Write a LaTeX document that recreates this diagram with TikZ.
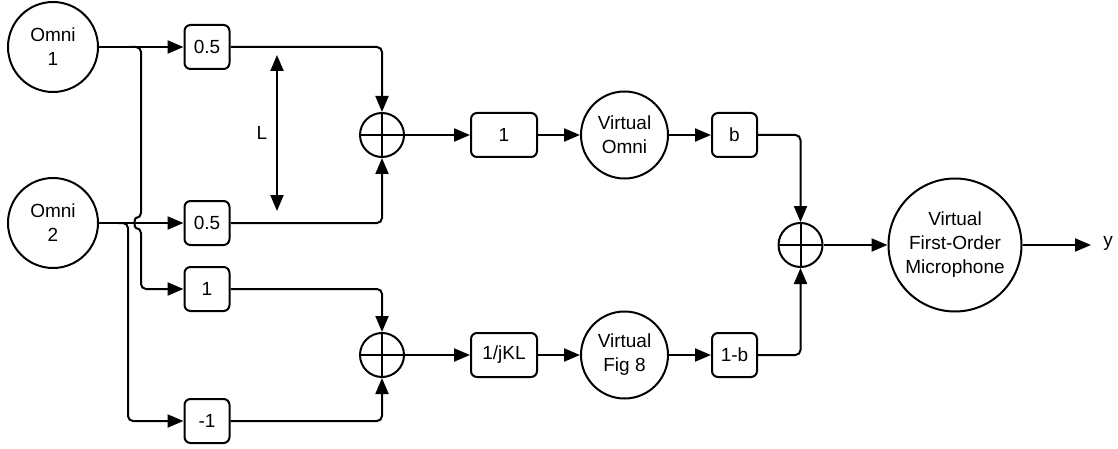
\documentclass[tikz,border=0pt]{standalone}
\usepackage{fontspec}
\setmainfont{Liberation Sans}
\usetikzlibrary{arrows.meta}
\begin{document}
\begin{tikzpicture}[x=1pt,y=-1pt,line width=2pt,
  every node/.style={font=\fontsize{19}{24}\selectfont},
  gainbox/.style={draw,rounded corners=6pt,minimum width=45pt,minimum height=44pt,inner sep=0pt},
  widebox/.style={gainbox,minimum width=66pt},
  micro/.style={draw,circle,align=center,inner sep=0pt},
  summer/.style={draw,circle,minimum size=44pt,inner sep=0pt,
    path picture={\draw[line width=2pt] (path picture bounding box.west) -- (path picture bounding box.east)
      (path picture bounding box.north) -- (path picture bounding box.south);}},
  sig/.style={-{Triangle[length=16pt,width=13pt]}},
  wire/.style={rounded corners=5pt}]
\useasboundingbox (0,0) rectangle (1118,449);
\node[micro,minimum size=90pt] (omnione) at (53,47) {Omni\\1};
\node[micro,minimum size=90pt] (omnitwo) at (53,223) {Omni\\2};
\node[gainbox] (ga) at (207,47) {0.5};
\node[gainbox] (gb) at (207,223) {0.5};
\node[gainbox] (gc) at (207,289) {1};
\node[gainbox] (gd) at (207,421) {-1};
\node[summer] (suma) at (382,135) {};
\node[summer] (sumb) at (382,355) {};
\coordinate (ltop) at (277,55);
\coordinate (lbot) at (277,211);
\node (lab) at (262,133) {L};
\node[widebox] (ha) at (504,135) {1};
\node[widebox] (hb) at (504,355) {1/jKL};
\node[micro,minimum size=87pt] (vo) at (624.5,135) {Virtual\\Omni};
\node[micro,minimum size=87pt] (vf) at (624.5,355) {Virtual\\Fig 8};
\node[gainbox] (ba) at (734.5,135) {b};
\node[gainbox] (bb) at (734.5,355) {1-b};
\node[summer] (sumc) at (800.5,245) {};
\node[micro,minimum size=133pt] (big) at (955,245) {Virtual\\First-Order\\Microphone};
\coordinate (yend) at (1091,245);
\node (ylab) at (1108,243) {y};
% inputs
\draw[sig] (omnione.east) -- (ga.west);
\draw[sig] (omnitwo.east) -- (gb.west);
\coordinate (jtop) at (130,47);
\draw[sig,wire] (jtop) -- (141,47) -- (141,218) .. controls (134,218) and (134,228) .. (141,228) -- (141,289) -- (gc.west);
\coordinate (ktop) at (118,223);
\draw[sig,wire] (ktop) -- (128,223) -- (128,421) -- (gd.west);
% L arrow
\draw[{Triangle[length=16pt,width=13pt]}-{Triangle[length=16pt,width=13pt]}] (ltop) -- (lbot);
% to summers
\draw[sig,wire] (ga.east) -- (suma.north |- ga.east) -- (suma.north);
\draw[sig,wire] (gb.east) -- (suma.south |- gb.east) -- (suma.south);
\draw[sig,wire] (gc.east) -- (sumb.north |- gc.east) -- (sumb.north);
\draw[sig,wire] (gd.east) -- (sumb.south |- gd.east) -- (sumb.south);
% chains
\draw[sig] (suma.east) -- (ha.west);
\draw[sig] (ha.east) -- (vo.west);
\draw[sig] (vo.east) -- (ba.west);
\draw[sig] (sumb.east) -- (hb.west);
\draw[sig] (hb.east) -- (vf.west);
\draw[sig] (vf.east) -- (bb.west);
\draw[sig,wire] (ba.east) -- (sumc.north |- ba.east) -- (sumc.north);
\draw[sig,wire] (bb.east) -- (sumc.south |- bb.east) -- (sumc.south);
\draw[sig] (sumc.east) -- (big.west);
\draw[sig] (big.east) -- (yend);
\end{tikzpicture}
\end{document}
